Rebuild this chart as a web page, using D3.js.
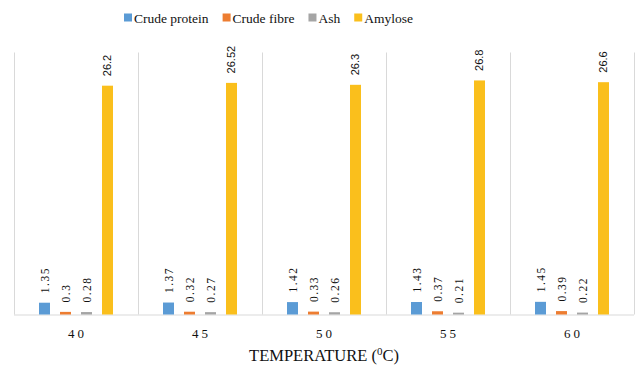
<!DOCTYPE html>
<html>
<head>
<meta charset="utf-8">
<script src="https://cdn.jsdelivr.net/npm/d3@7"></script>
<style>
  body { margin: 0; background: #fff; }
  .grid-line line { stroke: #d9d9d9; stroke-width: 1; }
</style>
</head>
<body>
<div id="canvas"></div>
<script>
// DATA
const temperatures = ["40", "45", "50", "55", "60"];
const seriesNames = ["Crude protein", "Crude fibre", "Ash", "Amylose"];
const crudeProtein = [1.35, 1.37, 1.42, 1.43, 1.45];
const crudeFibre = [0.3, 0.32, 0.33, 0.37, 0.39];
const ash = [0.28, 0.27, 0.26, 0.21, 0.22];
const amylose = [26.2, 26.52, 26.3, 26.8, 26.6];
const valueLabels = [
  ["1.35", "1.37", "1.42", "1.43", "1.45"],
  ["0.3", "0.32", "0.33", "0.37", "0.39"],
  ["0.28", "0.27", "0.26", "0.21", "0.22"],
  ["26.2", "26.52", "26.3", "26.8", "26.6"]
];
const xTitle = "TEMPERATURE (";
const colors = ["#5B9BD5", "#ED7D31", "#A5A5A5", "#FABF1C"];

function drawGraph() {
  // DIMENSIONS
  const width = 636;
  const height = 369;
  const margin = { top: 52.5, right: 2, bottom: 54.5, left: 14 };
  const plot_width = width - margin.left - margin.right;
  const plot_height = height - margin.top - margin.bottom;

  const serif = "'Liberation Serif', 'Times New Roman', serif";
  const sans = "'Liberation Sans', Arial, sans-serif";
  const ink = "#111";

  const values = [crudeProtein, crudeFibre, ash, amylose];
  const data = temperatures.map((t, i) => ({
    temp: t,
    bars: seriesNames.map((s, k) => ({ series: s, k: k, value: values[k][i], label: valueLabels[k][i] }))
  }));

  // CANVAS
  const canvas = d3.select("#canvas")
    .append("svg")
    .attr("width", width)
    .attr("height", height);

  const plot = canvas.append("g")
    .attr("transform", `translate(${margin.left}, ${margin.top})`);

  // SCALES
  const xScale = d3.scaleBand()
    .domain(temperatures)
    .range([0, plot_width]);

  const step = xScale.bandwidth();
  const x1 = d3.scaleBand()
    .domain(seriesNames)
    .range([25, step - 25])
    .paddingInner(10 / 21);

  const yScale = d3.scaleLinear()
    .domain([0, 30])
    .range([plot_height, 0]);

  const colorScale = d3.scaleOrdinal()
    .domain(seriesNames)
    .range(colors);

  // GRID (category separators)
  plot.append("g")
    .attr("class", "grid-line")
    .selectAll("line")
    .data(temperatures.concat(["end"]))
    .join("line")
    .attr("x1", (d, i) => Math.round(i * step) + 0.5)
    .attr("x2", (d, i) => Math.round(i * step) + 0.5)
    .attr("y1", 0)
    .attr("y2", plot_height);

  // X AXIS LINE
  plot.append("line")
    .attr("x1", 0)
    .attr("x2", plot_width)
    .attr("y1", Math.round(plot_height) + 0.5)
    .attr("y2", Math.round(plot_height) + 0.5)
    .attr("stroke", "#d9d9d9");

  // BARS
  const groups = plot.selectAll(".group")
    .data(data)
    .join("g")
    .attr("class", "group")
    .attr("transform", (d) => `translate(${xScale(d.temp)}, 0)`);

  groups.selectAll("rect")
    .data((d) => d.bars)
    .join("rect")
    .attr("x", (d) => x1(d.series))
    .attr("y", (d) => yScale(d.value))
    .attr("width", x1.bandwidth())
    .attr("height", (d) => yScale(0) - yScale(d.value))
    .style("fill", (d) => colorScale(d.series));

  // VALUE LABELS
  groups.selectAll("text")
    .data((d) => d.bars)
    .join("text")
    .attr("transform", (d) =>
      `translate(${x1(d.series) + x1.bandwidth() / 2}, ${yScale(d.value) - 9.5}) rotate(-90)`)
    .attr("dy", "0.35em")
    .attr("text-anchor", "start")
    .style("font-family", (d) => d.k === 3 ? sans : serif)
    .style("font-size", (d) => d.k === 3 ? "11px" : "11.5px")
    .style("letter-spacing", (d) => d.k === 3 ? "0px" : "1.5px")
    .style("fill", ink)
    .text((d) => d.label);

  // TICK LABELS
  plot.append("g")
    .selectAll("text")
    .data(temperatures)
    .join("text")
    .attr("x", (d) => xScale(d) + step / 2 + 1.5)
    .attr("y", plot_height + 23)
    .attr("text-anchor", "middle")
    .style("font-family", serif)
    .style("font-size", "13px")
    .style("letter-spacing", "3px")
    .style("fill", ink)
    .text((d) => d);

  // AXIS TITLE
  const title = plot.append("text")
    .attr("x", plot_width / 2)
    .attr("y", plot_height + 46.5)
    .attr("text-anchor", "middle")
    .style("font-family", serif)
    .style("font-size", "16.5px")
    .style("fill", ink);
  title.append("tspan").text(xTitle);
  title.append("tspan").attr("dy", -6).style("font-size", "11px").text("0");
  title.append("tspan").attr("dy", 6).text("C)");

  // LEGEND
  const legend = canvas.append("g")
    .attr("transform", "translate(124, 18)");
  let lx = 0;
  seriesNames.forEach((s, k) => {
    legend.append("rect")
      .attr("x", lx)
      .attr("y", -4.5)
      .attr("width", 8)
      .attr("height", 8)
      .style("fill", colorScale(s));
    const t = legend.append("text")
      .attr("x", lx + 10)
      .attr("y", 4.5)
      .style("font-family", serif)
      .style("font-size", "13.5px")
      .style("fill", ink)
      .text(s);
    lx += 10 + t.node().getComputedTextLength() + 14;
  });
}

drawGraph();
</script>
</body>
</html>
